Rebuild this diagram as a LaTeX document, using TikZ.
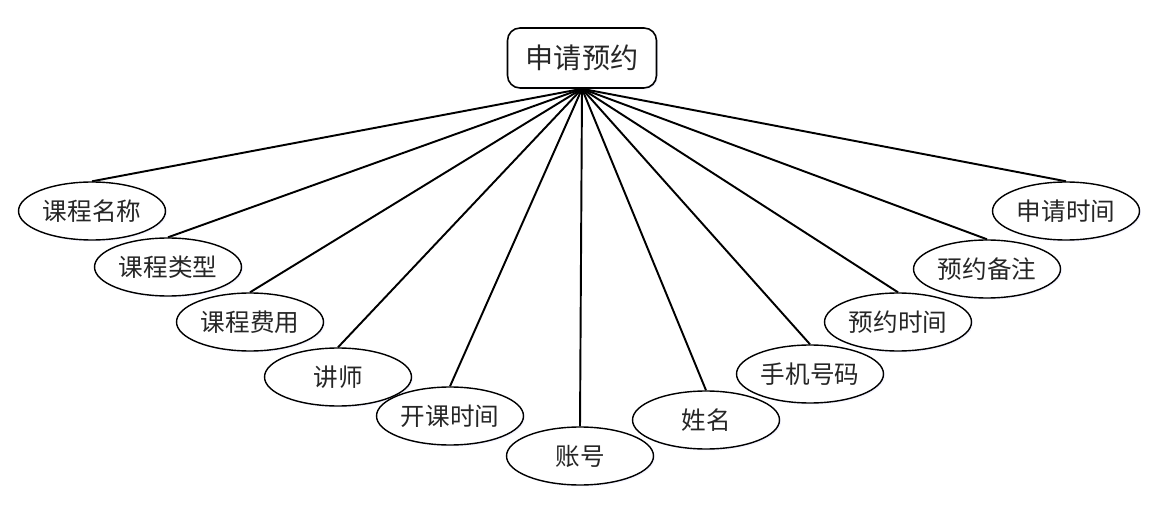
\documentclass[tikz,border=0pt]{standalone}
\usepackage{fontspec}
\newfontfamily\cjk{Noto Sans CJK SC}
\usetikzlibrary{shapes.geometric,shadows}

\tikzset{
  attr/.style={ellipse,draw,line width=0.8pt,inner sep=0pt,minimum width=2.94cm,minimum height=1.16cm,
    font=\cjk\fontsize{14}{16}\selectfont,text=black!85,fill=white,
    drop shadow={opacity=0.12,fill=blue!40,shadow xshift=0.03cm,shadow yshift=-0.03cm}},
  entity/.style={draw,line width=0.9pt,rounded corners=0.25cm,inner sep=0pt,minimum width=2.98cm,minimum height=1.2cm,
    font=\cjk\fontsize{16}{18}\selectfont,text=black!85,fill=white,
    drop shadow={opacity=0.12,fill=blue!40,shadow xshift=0.03cm,shadow yshift=-0.03cm}},
  link/.style={line width=1.1pt}
}

\begin{document}
\begin{tikzpicture}[x=0.02cm,y=-0.02cm]
  \useasboundingbox (0,0) rectangle (1155,506);
  % entity
  \node[entity] (apply) at (582,58) {申请预约};
  % attributes
  \node[attr] (cname)  at (92,211)   {课程名称};
  \node[attr] (ctype)  at (168,267)  {课程类型};
  \node[attr] (cfee)   at (250,322)  {课程费用};
  \node[attr] (teach)  at (338,377)  {讲师};
  \node[attr] (cstart) at (450,416)  {开课时间};
  \node[attr] (acct)   at (580,456)  {账号};
  \node[attr] (uname)  at (706,420)  {姓名};
  \node[attr] (phone)  at (810,374)  {手机号码};
  \node[attr] (rtime)  at (898,322)  {预约时间};
  \node[attr] (rnote)  at (987,269)  {预约备注};
  \node[attr] (atime)  at (1066,211) {申请时间};
  % links
  \foreach \a in {cname,ctype,cfee,teach,cstart,acct,uname,phone,rtime,rnote,atime}
    \draw[link] (apply.south) -- (\a.north);
\end{tikzpicture}
\end{document}
